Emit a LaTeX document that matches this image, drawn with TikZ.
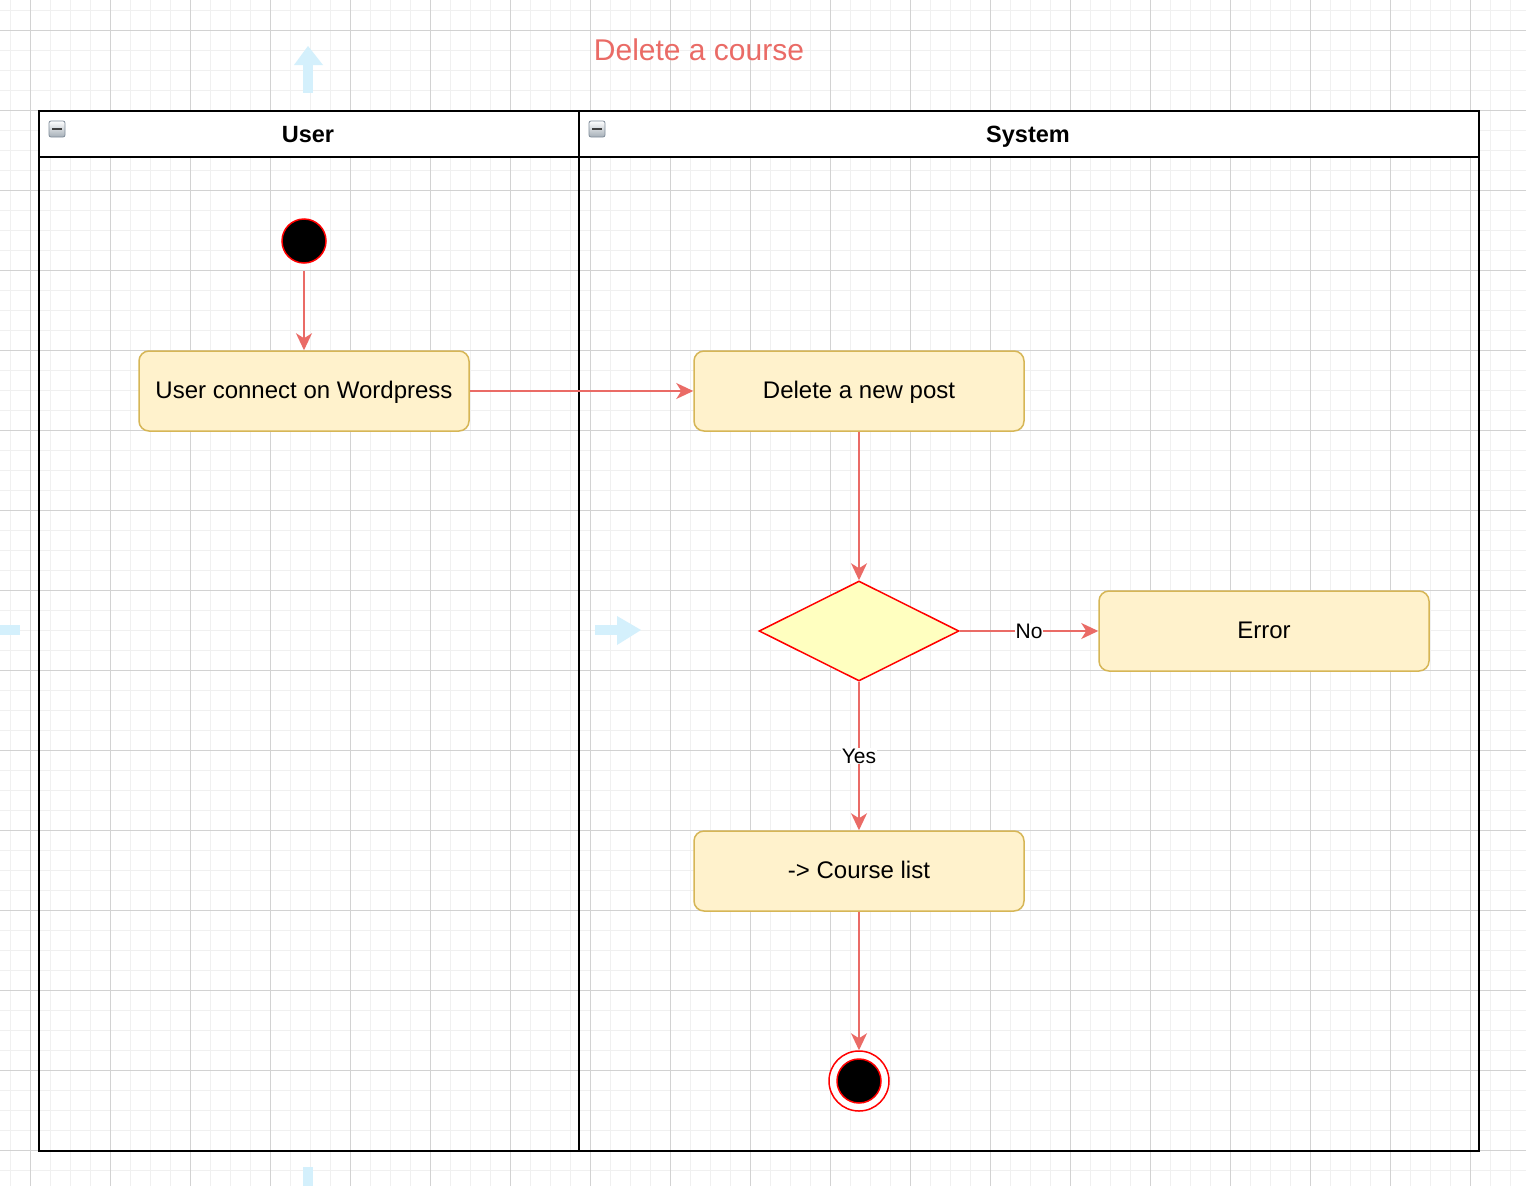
\documentclass[tikz,border=0pt]{standalone}
\usepackage{fontspec}
\setmainfont{Liberation Sans}
\usetikzlibrary{arrows.meta,shapes.geometric}
\definecolor{gridminor}{HTML}{F0F0F0}
\definecolor{gridmajor}{HTML}{D2D2D2}
\definecolor{arrowc}{HTML}{EA6B66}
\definecolor{boxfill}{HTML}{FFF2CC}
\definecolor{boxline}{HTML}{D6B656}
\definecolor{diafill}{HTML}{FFFFC0}
\definecolor{hint}{HTML}{D4F0FC}
\definecolor{iconline}{HTML}{7F8C99}
\tikzset{
  actbox/.style={draw=boxline, fill=boxfill, rounded corners=10pt, line width=1.5pt,
    minimum width=330pt, minimum height=80pt, inner sep=0pt,
    font=\fontsize{24}{29}\selectfont, text height=18pt, text depth=3pt},
  decision/.style={diamond, draw=red, fill=diafill, line width=1.5pt,
    minimum width=200pt, minimum height=100pt, inner sep=0pt, aspect=2},
  startstate/.style={circle, fill=black, draw=red, line width=1.5pt,
    minimum size=44pt, inner sep=0pt},
  endouter/.style={circle, fill=white, draw=red, line width=1.5pt,
    minimum size=60pt, inner sep=0pt},
  endinner/.style={circle, fill=black, draw=red, line width=1.5pt,
    minimum size=44pt, inner sep=0pt},
  flow/.style={draw=arrowc, line width=1.5pt, -{Stealth[length=17pt,width=16pt,inset=5pt]}},
  edgelabel/.style={fill=white, inner sep=1pt, font=\fontsize{21}{25}\selectfont, text=black},
  lanehead/.style={font=\bfseries\fontsize{23.5}{28}\selectfont, anchor=base},
  collapseicon/.style={draw=iconline, line width=0.8pt, rounded corners=2pt,
    top color=white, bottom color=iconline!70},
}
\begin{document}
\begin{tikzpicture}[x=1pt,y=-1pt]
\useasboundingbox (0,0) rectangle (1526,1186);
\fill[white] (0,0) rectangle (1526,1186);
% grid
\foreach \g in {10,30,...,1526} {
  \draw[gridminor, line width=1pt] (\g,0) -- (\g,1186);
}
\foreach \g in {10,30,...,1186} {
  \draw[gridminor, line width=1pt] (0,\g) -- (1526,\g);
}
\foreach \g in {30,110,...,1526} {
  \draw[gridmajor, line width=1pt] (\g,0) -- (\g,1186);
}
\foreach \g in {30,110,...,1186} {
  \draw[gridmajor, line width=1pt] (0,\g) -- (1526,\g);
}
% hover hints
\fill[hint] (303,93) rectangle (313,64);
\fill[hint] (294,65) -- (308,46) -- (323,65) -- cycle;
\fill[hint] (595,625) rectangle (618,635);
\fill[hint] (617,616) -- (641,630) -- (617,645) -- cycle;
\fill[hint] (0,625) rectangle (20,635);
\fill[hint] (303,1167) rectangle (313,1186);
% title
\node[text=arrowc, font=\fontsize{30}{36}\selectfont] (title) at (699,50) {Delete a course};
% pool
\fill[white] (39,111) rectangle (1479,157);
\draw[line width=2pt] (39,111) rectangle (1479,1151);
\draw[line width=2pt] (39,157) -- (1479,157);
\draw[line width=2pt] (579,111) -- (579,1151);
\node[lanehead] (userlane) at (308,142.5) {User};
\node[lanehead] (syslane) at (1028,142.5) {System};
% collapse icons
\draw[collapseicon] (49,121) rectangle (65,137);
\draw[line width=2.5pt, black!75] (52,129) -- (62,129);
\draw[collapseicon] (589,121) rectangle (605,137);
\draw[line width=2.5pt, black!75] (592,129) -- (602,129);
% nodes
\node[startstate] (start) at (304,241) {};
\node[actbox] (connect) at (304,391) {User connect on Wordpress};
\node[actbox] (delete) at (859,391) {Delete a new post};
\node[decision] (dec) at (859,631) {};
\node[actbox] (error) at (1264,631) {Error};
\node[actbox] (list) at (859,871) {-> Course list};
\node[endouter] (end) at (859,1081) {};
\node[endinner] (endin) at (859,1081) {};
% connectors
\draw[flow, shorten <=7pt] (start) -- (connect);
\draw[flow] (connect) -- (delete);
\draw[flow] (delete) -- (dec);
\draw[flow] (dec) -- node[edgelabel] {No} (error);
\draw[flow] (dec) -- node[edgelabel] {Yes} (list);
\draw[flow] (list) -- (end);
\end{tikzpicture}
\end{document}
